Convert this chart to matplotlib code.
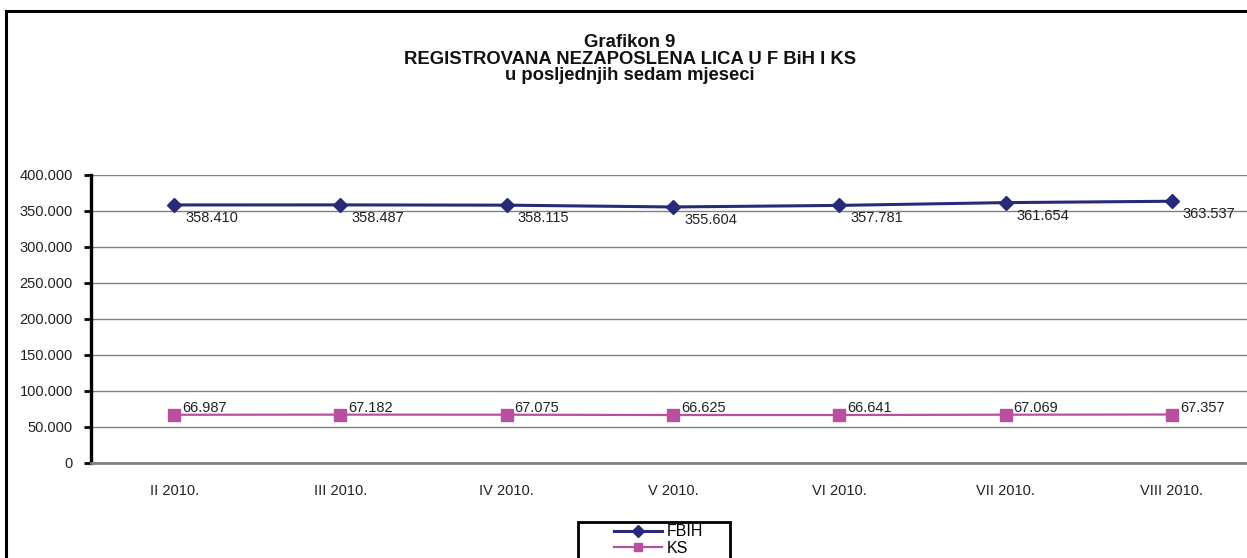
import matplotlib
matplotlib.use("Agg")
import matplotlib.pyplot as plt
from matplotlib.patches import Rectangle
from matplotlib.ticker import FuncFormatter

# data
months = ["II 2010.", "III 2010.", "IV 2010.", "V 2010.", "VI 2010.", "VII 2010.", "VIII 2010."]
fbih = [358410, 358487, 358115, 355604, 357781, 361654, 363537]
ks = [66987, 67182, 67075, 66625, 66641, 67069, 67357]
series_names = ["FBIH", "KS"]
title_lines = ["Grafikon 9",
               "REGISTROVANA NEZAPOSLENA LICA U F BiH I KS",
               "u posljednjih sedam mjeseci"]

plt.rcParams['font.family'] = ['Liberation Sans', 'DejaVu Sans']

W, H = 1247, 558
fig = plt.figure(figsize=(W / 100, H / 100), dpi=100)


def px(x, y):
    # pixel coords (from top-left) -> figure fraction
    return x / W, 1 - y / H


# axes box: left spine x=91, top y=175, bottom y=463, runs past right edge
ax = fig.add_axes([91 / W, (H - 463) / H, 1164 / W, 288 / H])

x = list(range(len(months)))
ax.plot(x, fbih, color='#262a78', lw=2.2, marker='D', ms=7, label=series_names[0], zorder=4)
ax.plot(x, ks, color='#b84f9f', lw=1.6, marker='s', ms=9, label=series_names[1], zorder=4)

for i, v in enumerate(fbih):
    ax.annotate(f"{v / 1000:.3f}", (i, v), xytext=(11, -13), textcoords='offset pixels',
                ha='left', va='center', fontsize=10.5, color='#222222')
for i, v in enumerate(ks):
    ax.annotate(f"{v / 1000:.3f}", (i, v), xytext=(8, 7), textcoords='offset pixels',
                ha='left', va='center', fontsize=10.5, color='#222222')

ax.set_xlim(-0.5, len(months) - 0.5)
ax.set_ylim(0, 400000)
ax.set_yticks(range(0, 400001, 50000))
ax.yaxis.set_major_formatter(FuncFormatter(lambda v, p: "0" if v == 0 else f"{int(v):,}".replace(",", ".")))
ax.set_xticks(x)
ax.set_xticklabels(months)
ax.grid(axis='y', color='#808080', lw=1)
ax.set_axisbelow(True)

for s in ['top', 'right']:
    ax.spines[s].set_visible(False)
ax.spines['left'].set_color('black')
ax.spines['left'].set_linewidth(2.4)
ax.spines['bottom'].set_color('#808080')
ax.spines['bottom'].set_linewidth(2)
ax.tick_params(axis='y', length=5, width=2, color='black', pad=8, labelsize=10.5, labelcolor='#222222')
ax.tick_params(axis='x', length=0, pad=15, labelsize=10.5, labelcolor='#222222')

# title
for line, yb in zip(title_lines, [47, 64, 80.5]):
    fig.text(*px(630, yb), line, ha='center', va='baseline', fontsize=13.3, fontweight='bold', color='#111111')

# outer frame of the chart area
fx, fy = px(6, 11)
fig.patches.append(Rectangle((fx, -0.05), 1.05, fy + 0.05, transform=fig.transFigure,
                             fill=False, lw=2.2, ec='black', clip_on=False))

# legend
leg = fig.legend(loc='upper left', bbox_to_anchor=px(612, 522), frameon=False, fontsize=11.5,
                 handlelength=3.0, handletextpad=0.3, labelspacing=0.1, borderpad=0.15,
                 borderaxespad=0)
for h in leg.legend_handles:
    h.set_markersize(6)
lx, ly = px(578, 522)
fig.patches.append(Rectangle((lx, ly - 60 / H), 152 / W, 60 / H, transform=fig.transFigure,
                             fill=False, lw=2, ec='black', clip_on=False))

fig.savefig("out.png", dpi=100)
